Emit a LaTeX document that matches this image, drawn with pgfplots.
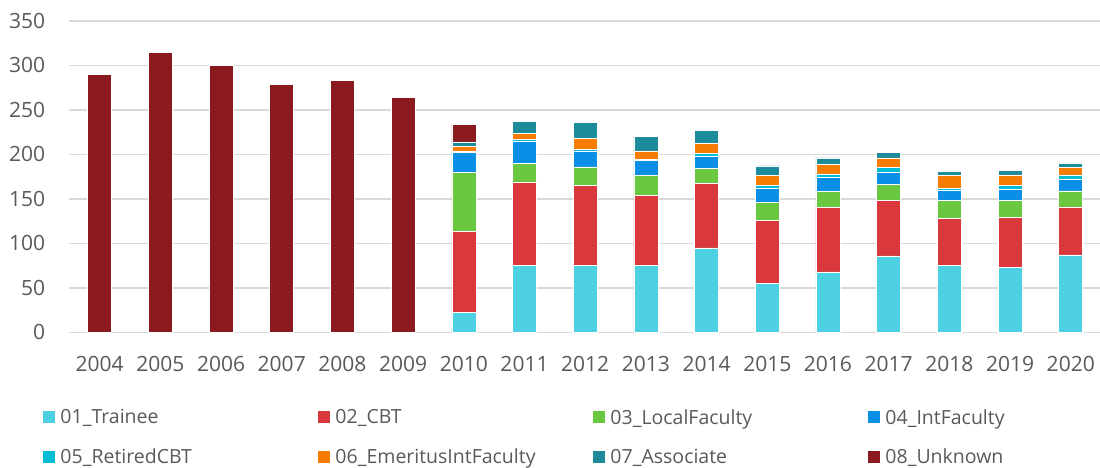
\documentclass[border=0pt]{standalone}
\usepackage{fontspec}
\setmainfont{Open Sans}
\usepackage{pgfplots}
\usepackage{pgfplotstable}
\pgfplotsset{compat=1.18}
\definecolor{cTrainee}{HTML}{4DD0E1}
\definecolor{cCBT}{HTML}{D9383C}
\definecolor{cLocal}{HTML}{6AC740}
\definecolor{cInt}{HTML}{0A8FE6}
\definecolor{cRetired}{HTML}{00BCD4}
\definecolor{cEmeritus}{HTML}{F77C00}
\definecolor{cAssociate}{HTML}{1C8C9A}
\definecolor{cUnknown}{HTML}{8B1A1E}
\definecolor{gridgray}{HTML}{D9D9D9}
\definecolor{txtgray}{HTML}{595959}
\pgfplotstableread{
x  Trainee CBT Local Int Retired Emeritus Associate Unknown
0  0  0  0  0  0  0  0  290
1  0  0  0  0  0  0  0  315
2  0  0  0  0  0  0  0  300
3  0  0  0  0  0  0  0  279
4  0  0  0  0  0  0  0  283
5  0  0  0  0  0  0  0  264
6  22 91 67 22 1  6  5  20
7  75 94 21 25 2  7  13 0
8  75 90 21 18 2  12 18 0
9  75 79 22 17 1  10 16 0
10 95 72 17 14 3  11 15 0
11 55 71 20 16 3  11 11 0
12 68 72 18 16 4  11 7  0
13 86 62 18 14 5  11 6  0
14 75 53 20 12 2  14 5  0
15 73 56 19 13 4  12 5  0
16 87 54 18 13 5  8  5  0
}\datatable
\newcommand{\lentry}[1]{\makebox[253pt][l]{#1}}
\begin{document}
\begin{tikzpicture}
\useasboundingbox (0,0) rectangle (1100pt,468pt);
\begin{axis}[
  at={(69.3pt,135.7pt)}, anchor=south west,
  scale only axis, width=1031.8pt, height=311.3pt,
  xmin=-0.5, xmax=16.5, ymin=0, ymax=350,
  ybar stacked, bar width=24pt,
  xtick={0,...,16},
  xticklabels={2004,2005,2006,2007,2008,2009,2010,2011,2012,2013,2014,2015,2016,2017,2018,2019,2020},
  ytick={0,50,100,150,200,250,300,350},
  ymajorgrids, grid style={draw=gridgray, line width=1.5pt},
  axis line style={draw=none}, major tick length=0pt, tick style={draw=none},
  ticklabel style={font=\fontsize{21}{24}\selectfont, text=txtgray},
  /pgf/number format/assume math mode=true,
  yticklabel style={inner sep=0pt, xshift=-24pt},
  xticklabel style={inner sep=0pt, yshift=-24pt},
  legend columns=4,
  legend style={draw=none, fill=none, inner sep=0pt, column sep=5pt, row sep=23pt,
    font=\fontsize{19.5}{22}\selectfont, text=txtgray,
    at={(axis description cs:-0.0252,-0.2464)}, anchor=north west,
    nodes={inner sep=0pt}, cells={anchor=west}},
  legend image code/.code={\fill[#1,draw=none] (0pt,-6pt) rectangle (12pt,6pt);},
]
\addplot[fill=cTrainee, draw=white, line width=0.6pt] table[x=x,y=Trainee]{\datatable};
\addlegendentry{\lentry{01\_Trainee}}
\addplot[fill=cCBT, draw=white, line width=0.6pt] table[x=x,y=CBT]{\datatable};
\addlegendentry{\lentry{02\_CBT}}
\addplot[fill=cLocal, draw=white, line width=0.6pt] table[x=x,y=Local]{\datatable};
\addlegendentry{\lentry{03\_LocalFaculty}}
\addplot[fill=cInt, draw=white, line width=0.6pt] table[x=x,y=Int]{\datatable};
\addlegendentry{\lentry{04\_IntFaculty}}
\addplot[fill=cRetired, draw=white, line width=0.6pt] table[x=x,y=Retired]{\datatable};
\addlegendentry{\lentry{05\_RetiredCBT}}
\addplot[fill=cEmeritus, draw=white, line width=0.6pt] table[x=x,y=Emeritus]{\datatable};
\addlegendentry{\lentry{06\_EmeritusIntFaculty}}
\addplot[fill=cAssociate, draw=white, line width=0.6pt] table[x=x,y=Associate]{\datatable};
\addlegendentry{\lentry{07\_Associate}}
\addplot[fill=cUnknown, draw=white, line width=0.6pt] table[x=x,y=Unknown]{\datatable};
\addlegendentry{\lentry{08\_Unknown}}
\end{axis}
\end{tikzpicture}
\end{document}
